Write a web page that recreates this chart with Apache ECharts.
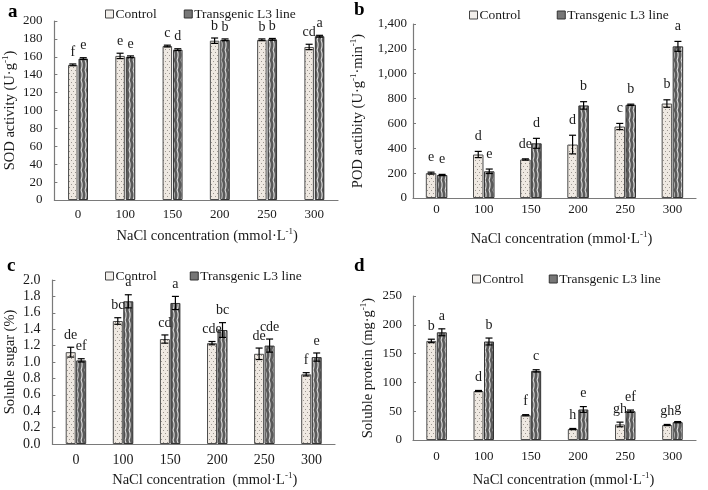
<!DOCTYPE html>
<html><head><meta charset="utf-8">
<script src="https://cdn.jsdelivr.net/npm/echarts@6/dist/echarts.min.js"></script>
<style>html,body{margin:0;padding:0;background:#fff}#c{width:708px;height:490px}</style>
</head><body><div id="c"></div><script>
const categories = ['0', '100', '150', '200', '250', '300'];
const seriesNames = ['Control', 'Transgenic L3 line'];

// a: SOD activity
const sodControl = [151, 161, 172, 178, 179, 171];
const sodControlErr = [1, 3, 1, 3, 1, 3];
const sodTrans = [158, 160, 168, 179, 179.5, 183];
const sodTransErr = [1, 1, 1, 1, 1, 1];
const sodControlLetters = ['f', 'e', 'c', 'b', 'b', 'cd'];
const sodTransLetters = ['e', 'e', 'd', 'b', 'b', 'a'];
const sodTicks = [0, 200, 20];

// b: POD activity
const podControl = [200, 350, 310, 430, 575, 760];
const podControlErr = [8, 25, 5, 75, 25, 30];
const podTrans = [185, 215, 440, 745, 750, 1220];
const podTransErr = [5, 18, 40, 30, 5, 40];
const podControlLetters = ['e', 'd', 'de', 'd', 'c', 'b'];
const podTransLetters = ['e', 'e', 'd', 'b', 'b', 'a'];
const podTicks = [0, 1400, 200];

// c: Soluble sugar
const sugarControl = [1.12, 1.50, 1.28, 1.23, 1.10, 0.85];
const sugarControlErr = [0.06, 0.04, 0.05, 0.02, 0.07, 0.02];
const sugarTrans = [1.02, 1.74, 1.72, 1.39, 1.20, 1.06];
const sugarTransErr = [0.02, 0.08, 0.08, 0.09, 0.08, 0.05];
const sugarControlLetters = ['de', 'bc', 'cd', 'cde', 'de', 'f'];
const sugarTransLetters = ['ef', 'a', 'a', 'bc', 'cde', 'e'];
const sugarTicks = [0, 2.0, 0.2];

// d: Soluble protein
const proteinControl = [172, 85, 43, 19, 27, 26];
const proteinControlErr = [3, 1, 1, 1, 4, 1];
const proteinTrans = [187, 171, 120, 53, 50, 31];
const proteinTransErr = [6, 6, 2, 5, 2, 1];
const proteinControlLetters = ['b', 'd', 'f', 'h', 'gh', 'gh'];
const proteinTransLetters = ['a', 'b', 'c', 'e', 'ef', 'g'];
const proteinTicks = [0, 250, 50];

const FONT = '"Times New Roman", "Liberation Serif", serif';
const TXT = '#1a1a1a';
const AXIS = '#7a7a7a';

function dotPattern() {
  const cv = document.createElement('canvas');
  cv.width = 4; cv.height = 6;
  const g = cv.getContext('2d');
  g.fillStyle = '#efe9e2'; g.fillRect(0, 0, 4, 6);
  g.fillStyle = '#9a948e';
  g.fillRect(1, 1, 1, 1);
  g.fillRect(3, 4, 1, 1);
  return { image: cv, repeat: 'repeat' };
}
function wavePattern() {
  const cv = document.createElement('canvas');
  cv.width = 4; cv.height = 10;
  const g = cv.getContext('2d');
  g.fillStyle = '#5a5a5a'; g.fillRect(0, 0, 4, 10);
  g.strokeStyle = 'rgba(255,255,255,0.8)'; g.lineWidth = 1.1;
  g.beginPath();
  g.moveTo(1, 0); g.quadraticCurveTo(3.2, 5, 1, 10);
  g.stroke();
  return { image: cv, repeat: 'repeat' };
}

const controlStyle = { color: dotPattern(), borderColor: '#4d4d4d', borderWidth: 1 };
const transStyle = { color: wavePattern(), borderColor: '#333', borderWidth: 1 };

const panels = [
  { tag: 'a', tagPos: [8, 3], grid: { left: 51, top: 21, width: 287, height: 179 }, ticks: sodTicks, fmt: v => String(v),
    yName: 'SOD activity (U·g{s|-1})', yGap: 33, xName: 'NaCl concentration (mmol·L{s|-1})', xGap: 27, xShift: 22,
    labelMargin: 8, yLabelMargin: 12, tickSize: 13, barW: 9.5, gapRatio: 0.1, letterGap: 5,
    legend: { left: 100, top: 2, itemGap: 27 },
    c: sodControl, ce: sodControlErr, t: sodTrans, te: sodTransErr, cl: sodControlLetters, tl: sodTransLetters },
  { tag: 'b', tagPos: [354, 1], grid: { left: 413, top: 24, width: 283, height: 174 }, ticks: podTicks, fmt: v => v.toLocaleString('en-US'),
    yName: 'POD actibity (U·g{s|-1}·min{s|-1})', yGap: 46, xName: 'NaCl concentration (mmol·L{s|-1})', xGap: 32, xShift: 14,
    labelMargin: 5, yLabelMargin: 6, tickSize: 13, barW: 10.5, gapRatio: 0.05, letterGap: 8,
    legend: { left: 464, top: 3, itemGap: 36 },
    c: podControl, ce: podControlErr, t: podTrans, te: podTransErr, cl: podControlLetters, tl: podTransLetters },
  { tag: 'c', tagPos: [7, 257], grid: { left: 48, top: 280, width: 287, height: 166 }, ticks: sugarTicks, fmt: v => v.toFixed(1),
    yName: 'Soluble sugar (%)', yGap: 32, xName: 'NaCl concentration  (mmol·L{s|-1})', xGap: 27, xShift: 22,
    labelMargin: 9, yLabelMargin: 12, tickSize: 14, barW: 10, gapRatio: 0.05, letterGap: 5,
    legend: { left: 100, top: 264, itemGap: 33 },
    c: sugarControl, ce: sugarControlErr, t: sugarTrans, te: sugarTransErr, cl: sugarControlLetters, tl: sugarTransLetters },
  { tag: 'd', tagPos: [354, 257], grid: { left: 413, top: 296, width: 283, height: 149 }, ticks: proteinTicks, fmt: v => String(v),
    yName: 'Soluble protein (mg·g{s|-1})', yGap: 36, xName: 'NaCl concentration (mmol·L{s|-1})', xGap: 31, xShift: 18,
    labelMargin: 10, yLabelMargin: 11, tickSize: 13, barW: 10, gapRatio: 0.05, letterGap: 6,
    legend: { left: 467, top: 267, itemGap: 25 },
    c: proteinControl, ce: proteinControlErr, t: proteinTrans, te: proteinTransErr, cl: proteinControlLetters, tl: proteinTransLetters }
];

const supRich = { s: { fontSize: 9, fontFamily: FONT, color: TXT, verticalAlign: 'top', lineHeight: 18 } };

const option = {
  animation: false,
  backgroundColor: '#fff',
  grid: [], xAxis: [], yAxis: [], series: [], legend: [], graphic: []
};

panels.forEach((p, i) => {
  option.grid.push(Object.assign({ containLabel: false }, p.grid));
  option.xAxis.push({
    type: 'category', gridIndex: i, data: categories,
    axisLine: { show: true, lineStyle: { color: AXIS, width: 1.2 } },
    axisTick: { show: false },
    axisLabel: { color: TXT, fontFamily: FONT, fontSize: p.tickSize, margin: p.labelMargin },
    name: p.xName, nameLocation: 'middle', nameGap: p.xGap,
    nameTextStyle: { color: TXT, fontFamily: FONT, fontSize: 14.5, lineHeight: 18, padding: [0, 0, 0, p.xShift], rich: supRich }
  });
  option.yAxis.push({
    type: 'value', gridIndex: i, min: p.ticks[0], max: p.ticks[1], interval: p.ticks[2],
    splitLine: { show: false },
    axisLine: { show: true, lineStyle: { color: AXIS, width: 1.2 } },
    axisTick: { show: true, inside: true, length: 3, lineStyle: { color: AXIS } },
    axisLabel: { color: TXT, fontFamily: FONT, fontSize: p.tickSize, margin: p.yLabelMargin, formatter: p.fmt },
    name: p.yName, nameLocation: 'middle', nameGap: p.yGap,
    nameTextStyle: { color: TXT, fontFamily: FONT, fontSize: 14.5, lineHeight: 18, rich: supRich }
  });
  option.series.push({
    type: 'bar', name: seriesNames[0], xAxisIndex: i, yAxisIndex: i, data: p.c,
    barWidth: p.barW, barGap: (p.gapRatio * 100) + '%', itemStyle: controlStyle
  });
  option.series.push({
    type: 'bar', name: seriesNames[1], xAxisIndex: i, yAxisIndex: i, data: p.t,
    barWidth: p.barW, barGap: (p.gapRatio * 100) + '%', itemStyle: transStyle
  });
  const errData = [];
  categories.forEach((c, k) => {
    errData.push([k, p.c[k], p.ce[k], p.cl[k], -1]);
    errData.push([k, p.t[k], p.te[k], p.tl[k], 1]);
  });
  const off = p.barW * (1 + p.gapRatio) / 2;
  option.series.push({
    type: 'custom', name: 'err' + i, xAxisIndex: i, yAxisIndex: i, z: 10,
    encode: { x: 0, y: 1 }, data: errData, silent: true,
    renderItem: (params, api) => {
      const k = api.value(0), v = api.value(1), e = api.value(2), side = api.value(4);
      const letter = errData[params.dataIndex][3];
      const cx = api.coord([k, v])[0] + side * off;
      const yt = api.coord([k, v + e])[1];
      const yb = api.coord([k, v - e])[1];
      const cap = 3.5;
      const ls = { stroke: '#000', lineWidth: 1.2 };
      return {
        type: 'group', children: [
          { type: 'line', shape: { x1: cx, y1: yt, x2: cx, y2: yb }, style: ls },
          { type: 'line', shape: { x1: cx - cap, y1: yt, x2: cx + cap, y2: yt }, style: ls },
          { type: 'line', shape: { x1: cx - cap, y1: yb, x2: cx + cap, y2: yb }, style: ls },
          { type: 'text', style: { text: letter, x: cx, y: yt - p.letterGap, align: 'center', verticalAlign: 'bottom',
              fontSize: 14, fontFamily: FONT, fill: TXT } }
        ]
      };
    }
  });
  option.legend.push(Object.assign({
    orient: 'horizontal', icon: 'rect', itemWidth: 8, itemHeight: 8, selectedMode: false,
    textStyle: { color: TXT, fontFamily: FONT, fontSize: 13.5, padding: [0, 0, 0, -3] },
    data: [
      { name: seriesNames[0], itemStyle: { color: '#f2efeb', borderColor: '#444', borderWidth: 1 } },
      { name: seriesNames[1], itemStyle: { color: '#777', borderColor: '#333', borderWidth: 1 } }
    ]
  }, p.legend));
  option.graphic.push({
    type: 'text', left: p.tagPos[0], top: p.tagPos[1],
    style: { text: p.tag, font: 'bold 19px ' + FONT, fill: '#000' }
  });
});

const chart = echarts.init(document.getElementById('c'), null, { renderer: 'canvas' });
chart.setOption(option);
</script></body></html>
